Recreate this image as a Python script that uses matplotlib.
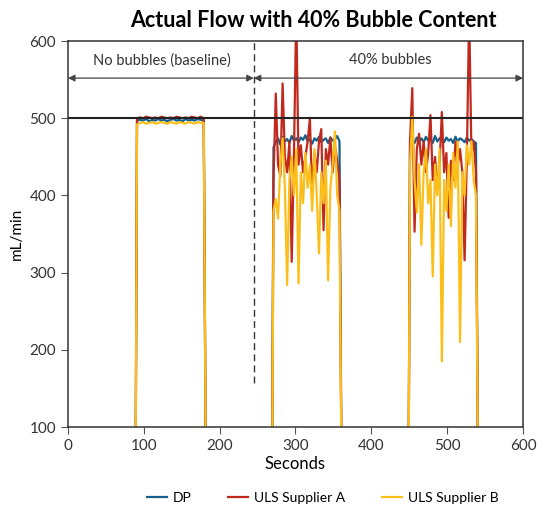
import numpy as np
import matplotlib.pyplot as plt

plt.rcParams['font.family'] = ['Lato', 'DejaVu Sans']

# seconds for each run block (every 3 s inside the bubble runs, 4 s in baseline)
t_base = [89, 91, 95, 99, 103, 107, 111, 115, 119, 123, 127, 131, 135, 139, 143,
          147, 151, 155, 159, 163, 167, 171, 175, 179, 182]
t_run2 = [269, 271, 274, 277, 280, 283, 286, 289, 292, 295, 298, 301, 304, 307, 310,
          313, 316, 319, 322, 325, 328, 331, 334, 337, 340, 343, 346, 349, 352, 355,
          358, 361]
t_run3 = [449, 451, 454, 457, 460, 463, 466, 469, 472, 475, 478, 481, 484, 487, 490,
          493, 496, 499, 502, 505, 508, 511, 514, 517, 520, 523, 526, 529, 532, 535,
          538, 541]

# mL/min readings
dp_base = [0, 497, 498, 497, 499, 496, 498, 497, 499, 497, 498, 496, 498, 499, 497,
           498, 496, 499, 497, 498, 497, 499, 498, 497, 0]
a_base = [0, 500, 501, 500, 502, 501, 500, 501, 500, 502, 501, 500, 501, 500, 502,
          501, 500, 501, 500, 502, 501, 500, 502, 500, 0]
b_base = [0, 492, 494, 495, 493, 494, 495, 493, 494, 495, 494, 493, 495, 494, 493,
          495, 494, 493, 495, 494, 493, 495, 494, 494, 0]

dp_run2 = [0, 462, 470, 474, 466, 476, 470, 473, 468, 477, 471, 474, 469, 475, 472,
           478, 470, 473, 467, 474, 471, 476, 469, 472, 474, 468, 475, 471, 473, 477,
           470, 0]
a_run2 = [0, 420, 532, 440, 425, 545, 450, 430, 470, 314, 455, 640, 440, 465, 430,
          450, 470, 500, 400, 455, 430, 470, 486, 355, 460, 440, 475, 430, 465, 445,
          420, 0]
b_run2 = [0, 380, 395, 370, 440, 474, 410, 284, 420, 450, 400, 460, 286, 430, 390,
          455, 410, 440, 380, 460, 400, 325, 430, 390, 445, 290, 410, 440, 483, 400,
          380, 0]

dp_run3 = [0, 465, 472, 468, 475, 470, 474, 469, 476, 471, 473, 468, 477, 470, 474,
           472, 469, 475, 471, 473, 468, 476, 470, 474, 472, 469, 475, 471, 473, 470,
           468, 0]
a_run3 = [0, 470, 539, 353, 460, 480, 440, 470, 430, 455, 504, 420, 450, 410, 440,
          508, 430, 455, 371, 445, 420, 470, 440, 460, 430, 316, 450, 640, 455, 470,
          430, 0]
b_run3 = [0, 440, 502, 420, 378, 440, 336, 430, 460, 390, 420, 295, 440, 400, 460,
          185, 420, 380, 440, 360, 455, 410, 470, 210, 430, 400, 465, 440, 470, 420,
          400, 0]

blocks = [(t_base, dp_base, a_base, b_base),
          (t_run2, dp_run2, a_run2, b_run2),
          (t_run3, dp_run3, a_run3, b_run3)]

c_dp = '#145f8c'
c_a = '#c1291d'
c_b = '#fcbf1a'

fig = plt.figure(figsize=(5.38, 5.08), dpi=100)
ax = fig.add_axes([0.1264, 0.1594, 0.8457, 0.7598])

for i, (t, dp, a, b) in enumerate(blocks):
    ax.plot(t, dp, color=c_dp, lw=1.6, label='DP' if i == 0 else None)
    ax.plot(t, a, color=c_a, lw=1.6, label='ULS Supplier A' if i == 0 else None)
    ax.plot(t, b, color=c_b, lw=1.6, label='ULS Supplier B' if i == 0 else None)

ax.axhline(500, color='#222222', lw=1.5)
ax.plot([245, 245], [157, 600], color='#333333', lw=1, ls=(0, (5, 3)))

# arrows for the two test phases
ax.annotate('', xy=(0, 552), xytext=(245, 552),
            arrowprops=dict(arrowstyle='<|-|>', color='#444444', lw=0.9,
                            shrinkA=0, shrinkB=0, mutation_scale=10))
ax.annotate('', xy=(245, 552), xytext=(600, 552),
            arrowprops=dict(arrowstyle='<|-|>', color='#444444', lw=0.9,
                            shrinkA=0, shrinkB=0, mutation_scale=10))
ax.text(124, 575, 'No bubbles (baseline)', ha='center', va='center',
        fontsize=10.5, color='#333333')
ax.text(425, 575, '40% bubbles', ha='center', va='center',
        fontsize=10.5, color='#333333')

ax.set_xlim(0, 600)
ax.set_ylim(100, 600)
ax.set_xticks([0, 100, 200, 300, 400, 500, 600])
ax.set_yticks([100, 200, 300, 400, 500, 600])
ax.tick_params(labelsize=11, colors='#333333', length=5, color='#555555')
for s in ax.spines.values():
    s.set_color('#333333')
    s.set_linewidth(1.1)

ax.set_xlabel('Seconds', fontsize=12, labelpad=2)
ax.set_ylabel('mL/min', fontsize=11, labelpad=4)
ax.set_title('Actual Flow with 40% Bubble Content', fontsize=15.5,
             fontweight='bold', pad=10, x=0.54)

ax.legend(loc='upper center', bbox_to_anchor=(0.56, -0.135), ncol=3, frameon=False,
          fontsize=10, handlelength=1.45, handletextpad=0.45, columnspacing=2.6)

fig.savefig('out.png', dpi=100)
